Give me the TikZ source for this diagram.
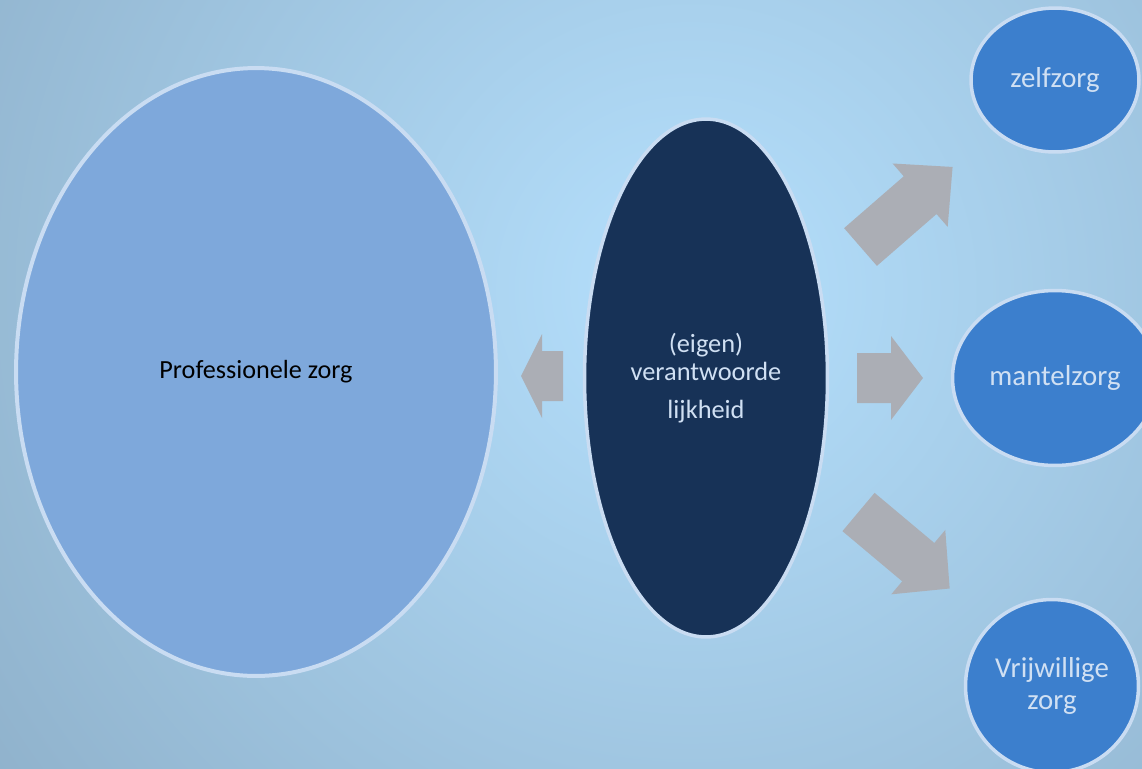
\documentclass[tikz,border=0pt]{standalone}
\usepackage{fontspec}
\setmainfont{Carlito}
\usetikzlibrary{shapes.geometric}
\definecolor{bgin}{HTML}{B5E0FD}
\definecolor{bgout}{HTML}{7A97AF}
\definecolor{rand}{HTML}{C9DCF2}
\definecolor{profblauw}{HTML}{7EA8DB}
\definecolor{donker}{HTML}{173257}
\definecolor{zorgblauw}{HTML}{3C7FCD}
\definecolor{lichttekst}{HTML}{D0E0F3}
\definecolor{pijlgrijs}{HTML}{ABAEB5}
\tikzset{
  zorgbol/.style={ellipse, draw=rand, line width=0.07cm, inner sep=0pt, align=center},
  pics/blokpijl/.style 2 args={code={
    \fill[pijlgrijs] (0,-25) -- (#1-#2,-25) -- (#1-#2,-42) -- (#1,0)
      -- (#1-#2,42) -- (#1-#2,25) -- (0,25) -- cycle;
  }}
}

\begin{document}
\begin{tikzpicture}[x=0.02cm, y=-0.02cm]
\useasboundingbox (0,0) rectangle (1142,768);
\begin{scope}
  \clip (0,0) rectangle (1142,768);
  \shade[inner color=bgin, outer color=bgout] (690,290) circle (1350);
\end{scope}
% linker en middelste ellips
\node[zorgbol, fill=profblauw, line width=0.08cm, minimum width=9.6cm, minimum height=12.16cm,
  font=\fontsize{14.9}{17}\selectfont] (prof) at (256,372) {Professionele zorg};
\node[zorgbol, fill=donker, text=lichttekst, minimum width=4.86cm, minimum height=10.36cm,
  font=\fontsize{15}{16}\selectfont] (eigen) at (706,378) {(eigen)\\verantwoorde\\[6pt]lijkheid};
% rechter bollen
\node[zorgbol, fill=zorgblauw, text=lichttekst, minimum width=3.36cm, minimum height=2.88cm,
  font=\fontsize{16.4}{18}\selectfont] (zelf) at (1055,80) {zelfzorg};
\node[zorgbol, fill=zorgblauw, text=lichttekst, minimum width=4.1cm, minimum height=3.5cm,
  font=\fontsize{16.4}{18}\selectfont] (mantel) at (1055,378) {mantelzorg};
\node[zorgbol, fill=zorgblauw, text=lichttekst, minimum width=3.46cm, minimum height=3.46cm,
  font=\fontsize{16.4}{18.2}\selectfont] (vrij) at (1052,686) {Vrijwillige\\zorg};
% blokpijlen
\pic[rotate=180] at (563,376) {blokpijl={42}{21}};
\pic at (857,378) {blokpijl={66}{32}};
\pic[rotate=41] at (860.5,247) {blokpijl={122}{43}};
\pic[rotate=-40] at (858.5,512) {blokpijl={119}{41}};
\end{tikzpicture}
\end{document}
